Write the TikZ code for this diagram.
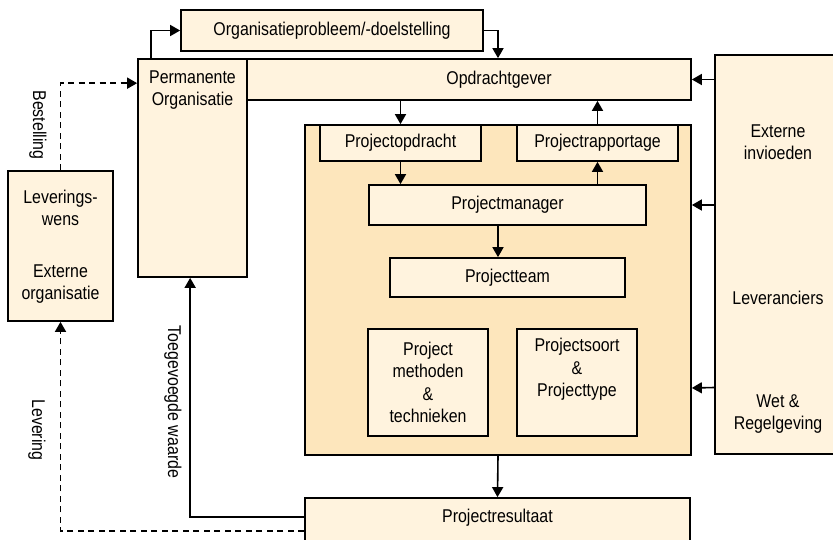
\documentclass[tikz,border=0pt]{standalone}
\usepackage{fontspec}
\setmainfont{Liberation Sans}[FakeStretch=0.86]
\usepackage{xcolor}
\usetikzlibrary{calc,arrows.meta}

\definecolor{lichtgeel}{RGB}{255,243,222}
\definecolor{donkergeel}{RGB}{253,230,188}

\tikzset{
  blok/.style={draw, line width=1.7pt, fill=lichtgeel, inner sep=0pt},
  pijl/.style={line width=1.6pt, -{Triangle[length=10pt,width=11pt]}},
  stippel/.style={pijl, dash pattern=on 6pt off 4.5pt},
  tekst/.style={align=center, font=\fontsize{18.5}{22.5}\selectfont}
}

\begin{document}
\begin{tikzpicture}[x=1pt,y=-1pt]
\useasboundingbox (0,0) rectangle (833,539);

% bovenste deel
\node[blok, minimum width=302, minimum height=41, tekst] (org) at (332,30.5) {Organisatieprobleem/-doelstelling};
\node[blok, minimum width=553, minimum height=41] (opdr) at (414.5,79.5) {};
\node[tekst] (opdrtxt) at (499,80) {Opdrachtgever};
\node[blok, minimum width=109, minimum height=218] (perm) at (192.5,168) {};
\node[tekst, anchor=north] (permtxt) at (192.5,67) {Permanente\\Organisatie};

% externe invloeden rechts
\node[blok, minimum width=130, minimum height=399] (ext) at (780,254.5) {};
\node[tekst] (exttxt) at (778,142) {Externe\\invioeden};
\node[tekst] (levtxt) at (778,298) {Leveranciers};
\node[tekst] (wettxt) at (778,414) {Wet \&\\Regelgeving};

% project
\node[blok, fill=donkergeel, minimum width=386, minimum height=330] (area) at (498,290) {};
\node[blok, minimum width=161, minimum height=36, tekst] (popd) at (400.5,143) {Projectopdracht};
\node[blok, minimum width=161, minimum height=36, tekst] (prap) at (597.5,143) {Projectrapportage};
\node[blok, minimum width=277, minimum height=40, tekst] (pman) at (507.5,205) {Projectmanager};
\node[blok, minimum width=235, minimum height=39, tekst] (pteam) at (507.5,277.5) {Projectteam};
\node[blok, minimum width=120, minimum height=107, tekst] (pmeth) at (428,382.5) {Project\\methoden\\\&\\technieken};
\node[blok, minimum width=120, minimum height=107] (psoort) at (577,382.5) {};
\node[tekst, anchor=north] (psoorttxt) at (577,335) {Projectsoort\\\&\\Projecttype};
\node[blok, minimum width=385, minimum height=62] (pres) at (497.5,529) {};
\node[tekst] (prestxt) at (497.5,518) {Projectresultaat};

% externe organisatie links
\node[blok, minimum width=105, minimum height=150] (lev) at (60.5,246) {};
\node[tekst] (wens) at (60.5,208) {Leverings-\\wens};
\node[tekst] (extorg) at (60.5,284) {Externe\\organisatie};

% pijlen
\draw[pijl] ($(perm.north west)+(14,0)$) |- (org.west);
\draw[pijl] (org.east) -| (area.center |- opdr.north);
\draw[pijl] (popd.north |- opdr.south) -- (popd.north);
\draw[pijl] (prap.north) -- (prap.north |- opdr.south);
\draw[pijl] (popd.south) -- (popd.south |- pman.north);
\draw[pijl] (prap.south |- pman.north) -- (prap.south);
\draw[pijl] (area.center |- pman.south) -- (area.center |- pteam.north);
\draw[pijl] (area.south) -- (pres.north);
\draw[pijl] (ext.west |- opdr.east) -- (opdr.east);
\draw[pijl] (ext.west |- pman.east) -- (area.east |- pman.east);
\draw[pijl] ($(ext.west)+(0,133)$) -- ($(area.east)+(0,98)$);

\draw[stippel] (lev.north) |- ($(perm.north west)+(0,25)$);
\draw[stippel] ($(pres.north west)+(0,34)$) -| (lev.south);
\draw[pijl] ($(pres.north west)+(0,20)$) -| ($(perm.south west)+(53,0)$);

\node[tekst, rotate=-90] (best) at (38,125) {Bestelling};
\node[tekst, rotate=-90] (levering) at (37,430) {Levering};
\node[tekst, rotate=-90] (toeg) at (173,402) {Toegevoegde waarde};
\end{tikzpicture}
\end{document}
